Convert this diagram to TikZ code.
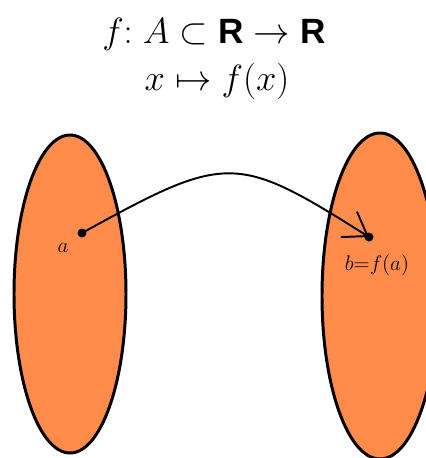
\documentclass[tikz,border=0pt]{standalone}
\usepackage{amsmath, amssymb}
\usepackage{fontspec}
\newfontfamily\helvfont{Liberation Sans}
\usetikzlibrary{arrows.meta}
\definecolor{setorange}{RGB}{255,140,75}
\newcommand{\RR}{\text{\helvfont\bfseries R}}

\begin{document}
\begin{tikzpicture}[x=0.02cm, y=-0.02cm, >={Straight Barb[length=0.44cm, width=0.6cm]}]
% --- Global Styles ---
\tikzstyle{setshape} = [draw=black, line width=1.7pt, fill=setorange]
\tikzstyle{pointdot} = [circle, fill=black, inner sep=0pt, minimum size=0.18cm]
\tikzstyle{maparrow} = [->, line width=1.1pt]
\tikzstyle{ptlabel} = [font=\fontsize{11.5}{14}\selectfont, inner sep=0pt]
\tikzstyle{title} = [font=\fontsize{20}{24}\selectfont, anchor=base, inner sep=0pt]

% --- Frame (pixel units, y down) ---
\useasboundingbox (0,0) rectangle (426,458);
\clip (0,0) rectangle (426,458);

% --- Set Centres ---
\def\xl{70}   % Domain centre x
\def\yl{294}  % Domain centre y
\def\xr{380}  % Codomain centre x
\def\yr{296}  % Codomain centre y

% ==========================================
% TITLE
% ==========================================
\node[title] (line1) at (214,43) {$f{:}\;A\subset\RR\to\RR$};
\node[title] (line2) at (217,90) {$x\mapsto f(x)$};

% ==========================================
% SETS
% ==========================================
\draw[setshape] (\xl,\yl) ellipse [x radius=56, y radius=159];
\draw[setshape] (\xr,\yr) ellipse [x radius=58, y radius=163];

% ==========================================
% POINTS AND MAP
% ==========================================
\node[pointdot] (a) at (82,233) {};
\node[pointdot] (b) at (369,237) {};
\node[ptlabel] (alabel) at (63,248) {$a$};
\node[ptlabel] (blabel) at (377,265) {$b{=}f(a)$};

% Map arrow from a to f(a)
\draw[maparrow] (a.center) .. controls (227,153) and (236,153) .. (b.center);

\end{tikzpicture}
\end{document}
